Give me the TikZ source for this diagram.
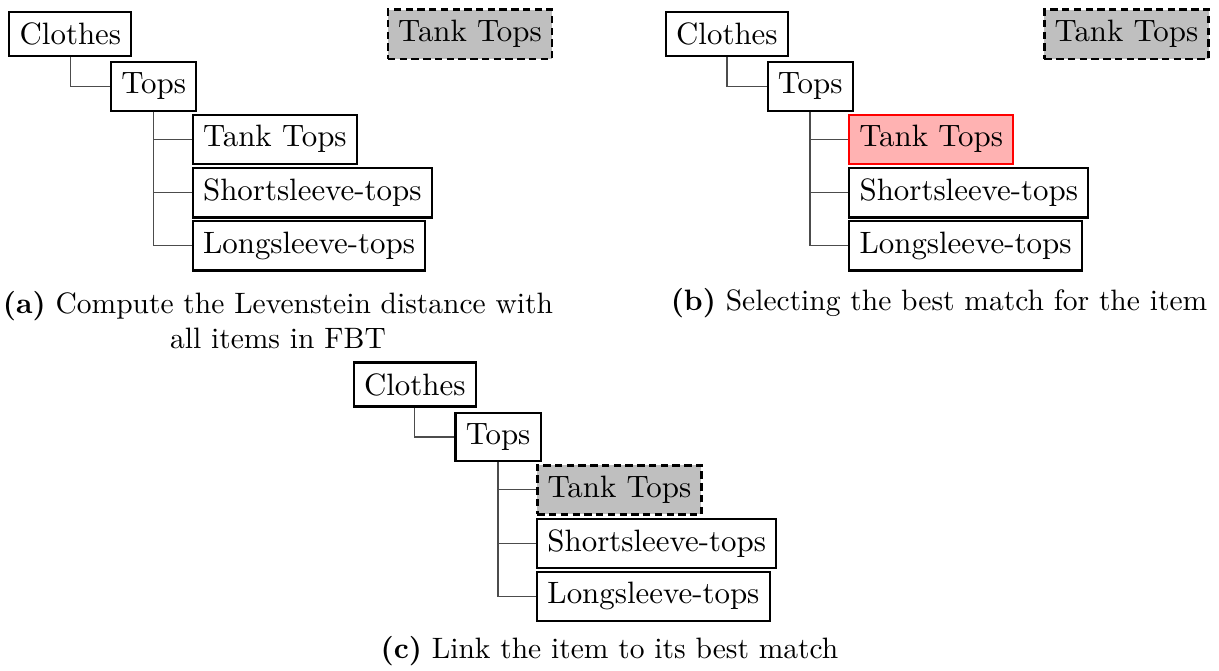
\documentclass[tikz,border=0pt]{standalone}
\usetikzlibrary{positioning}
\tikzset{
  box/.style={draw, line width=0.7pt, fill=white, inner xsep=3.33pt, inner ysep=3.5pt, font=\fontsize{10}{12}\selectfont},
  dashbox/.style={box, fill=lightgray, line width=0.8pt, dash pattern=on 2.4pt off 1.4pt},
  redbox/.style={box, draw=red, fill=red!30, line width=0.6pt},
  conn/.style={draw=black!70, line width=0.45pt},
  captext/.style={align=center, inner sep=0pt, font=\fontsize{9.55}{11.3}\selectfont}
}
\begin{document}
\begin{tikzpicture}[x=0.3236pt, y=-0.3236pt]
\useasboundingbox (0,0) rectangle (1219,671);
% ---------- panel (a)
\begin{scope}
  \node[box, anchor=west] (aclo) at (8.3,33.9) {Clothes};
  \node[box, anchor=west] (atop) at (110,86.4) {Tops};
  \node[box, anchor=west] (atank) at (191.7,139.2) {Tank Tops};
  \node[box, anchor=west] (ashort) at (191.7,192.8) {Shortsleeve-tops};
  \node[box, anchor=west] (along) at (191.7,245.8) {Longsleeve-tops};
  \node[dashbox, anchor=west] (aitem) at (386.7,34.2) {Tank Tops};
  \draw[conn] (aclo.south) |- (atop.west);
  \draw[conn] (atop.south) |- (atank.west);
  \draw[conn] (atop.south) |- (ashort.west);
  \draw[conn] (atop.south) |- (along.west);
  \node[captext] (acap) at (278,320.5) {\textbf{(a)} Compute the Levenstein distance with\\all items in FBT};
\end{scope}
% ---------- panel (b)
\begin{scope}[shift={(656.5,0)}]
  \node[box, anchor=west] (bclo) at (8.3,33.9) {Clothes};
  \node[box, anchor=west] (btop) at (110,86.4) {Tops};
  \node[redbox, anchor=west] (btank) at (191.7,139.2) {Tank Tops};
  \node[box, anchor=west] (bshort) at (191.7,192.8) {Shortsleeve-tops};
  \node[box, anchor=west] (blong) at (191.7,245.8) {Longsleeve-tops};
  \node[dashbox, anchor=west] (bitem) at (386.7,34.2) {Tank Tops};
  \draw[conn] (bclo.south) |- (btop.west);
  \draw[conn] (btop.south) |- (btank.west);
  \draw[conn] (btop.south) |- (bshort.west);
  \draw[conn] (btop.south) |- (blong.west);
\end{scope}
\node[captext] (bcap) at (939,303) {\textbf{(b)} Selecting the best match for the item};
% ---------- panel (c)
\begin{scope}[shift={(344.4,350.6)}]
  \node[box, anchor=west] (cclo) at (8.3,33.9) {Clothes};
  \node[box, anchor=west] (ctop) at (110,86.4) {Tops};
  \node[dashbox, anchor=west] (ctank) at (191.7,139.2) {Tank Tops};
  \node[box, anchor=west] (cshort) at (191.7,192.8) {Shortsleeve-tops};
  \node[box, anchor=west] (clong) at (191.7,245.8) {Longsleeve-tops};
  \draw[conn] (cclo.south) |- (ctop.west);
  \draw[conn] (ctop.south) |- (ctank.west);
  \draw[conn] (ctop.south) |- (cshort.west);
  \draw[conn] (ctop.south) |- (clong.west);
\end{scope}
\node[captext] (ccap) at (609.5,651) {\textbf{(c)} Link the item to its best match};
\end{tikzpicture}
\end{document}
